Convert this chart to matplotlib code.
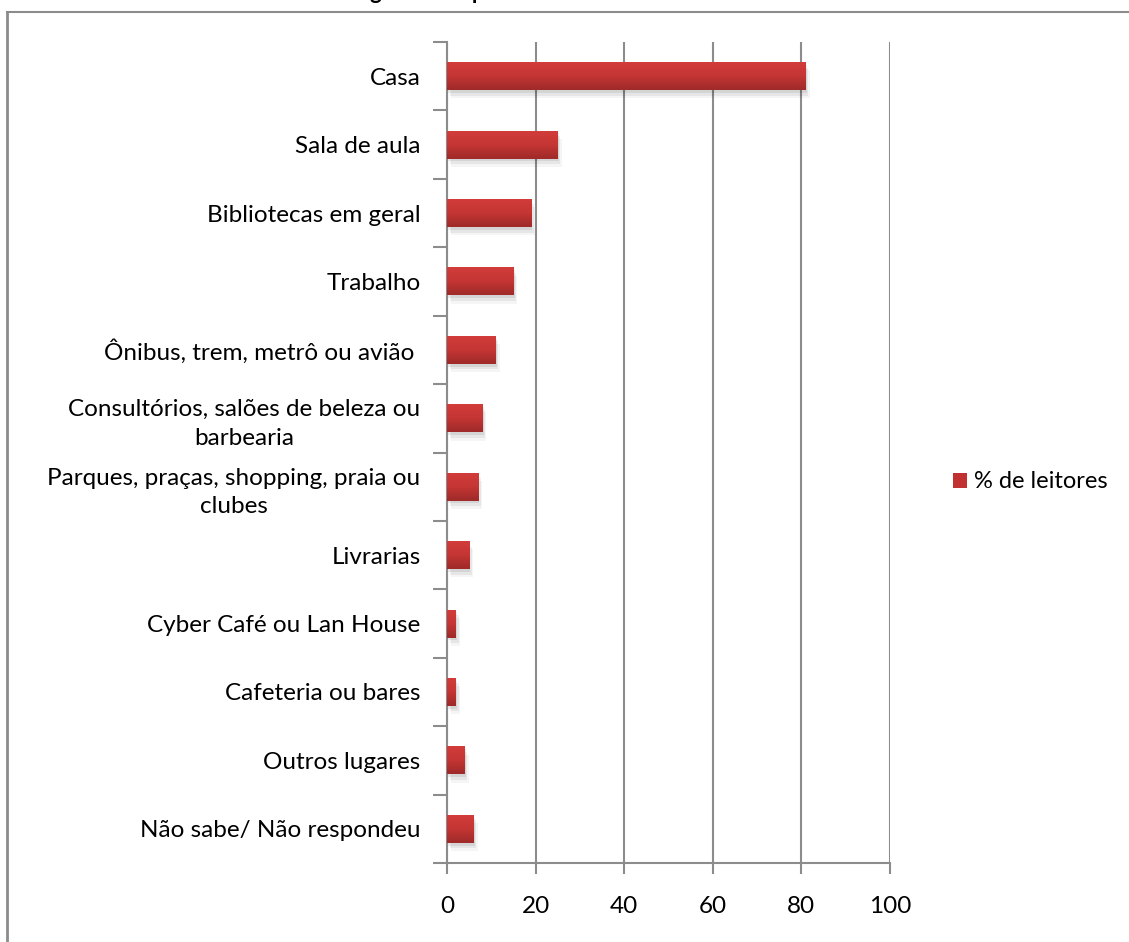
import numpy as np
import matplotlib.pyplot as plt
from matplotlib.lines import Line2D
from matplotlib.colors import LinearSegmentedColormap

plt.rcParams['font.family'] = ['Lato', 'DejaVu Sans']

lugares = [
    'Casa',
    'Sala de aula',
    'Bibliotecas em geral',
    'Trabalho',
    'Ônibus, trem, metrô ou avião ',
    'Consultórios, salões de beleza ou\nbarbearia',
    'Parques, praças, shopping, praia ou\nclubes',
    'Livrarias',
    'Cyber Café ou Lan House',
    'Cafeteria ou bares',
    'Outros lugares',
    'Não sabe/ Não respondeu',
]
leitores = [81, 25, 19, 15, 11, 8, 7, 5, 2, 2, 4, 6]
serie = '% de leitores'
titulo = 'Lugares em que costuma ler'

W, H = 1129, 942
fig = plt.figure(figsize=(W / 100, H / 100), dpi=100)
ax = fig.add_axes([447 / W, 1 - 863 / H, (890 - 447) / W, (863 - 42) / H])

grey = '#8c8c8c'
ypos = np.arange(len(lugares))[::-1]
h = 0.41

# soft shadow behind each bar
for k, a in [(0.3, 0.08), (0.6, 0.06), (0.9, 0.04)]:
    ax.barh(ypos - 0.04 * k / 0.3, leitores, height=h, left=k,
            color='#000000', alpha=a, zorder=2, linewidth=0)
bars = ax.barh(ypos, leitores, height=h, color='#c0312f', zorder=3,
               label=serie)

# vertical red gradient on the bars
cmap = LinearSegmentedColormap.from_list('red', ['#d33d3b', '#c53634', '#9e2a29'])
grad = np.linspace(0, 1, 64).reshape(-1, 1)
for b in bars:
    x0, y0 = b.get_x(), b.get_y()
    im = ax.imshow(grad, cmap=cmap, aspect='auto', zorder=4,
                   extent=(x0, x0 + b.get_width(), y0, y0 + b.get_height()),
                   origin='upper')
    im.set_clip_path(b)

ax.set_xlim(0, 100)
ax.set_ylim(-0.5, len(lugares) - 0.5)
ax.set_xticks(np.arange(0, 101, 20))
ax.set_yticks(ypos)
ax.set_yticklabels(lugares, fontsize=17.5, multialignment='center',
                   linespacing=1.45)
ax.set_yticks(np.arange(-0.5, len(lugares), 1), minor=True)

ax.tick_params(axis='y', which='major', length=0, pad=19)
ax.tick_params(axis='y', which='minor', length=10, width=1.5, color=grey)
ax.tick_params(axis='x', length=8, width=1.5, color=grey, labelsize=17.5, pad=16)

ax.grid(axis='x', color=grey, linewidth=1.5, zorder=1)
ax.set_axisbelow(True)
for s in ['top', 'right']:
    ax.spines[s].set_visible(False)
for s in ['left', 'bottom']:
    ax.spines[s].set_color(grey)
    ax.spines[s].set_linewidth(1.5)

leg = fig.legend(handles=[bars], labels=[serie], loc='center left',
                 bbox_to_anchor=(932 / W, 1 - 482 / H), frameon=False,
                 fontsize=17, handlelength=0.6, handleheight=0.6,
                 handletextpad=0.3)

# chart frame
fig.add_artist(Line2D([7 / W, 1], [1 - 12 / H, 1 - 12 / H], color=grey, lw=1.5))
fig.add_artist(Line2D([7 / W, 7 / W], [0, 1 - 12 / H], color=grey, lw=2))

fig.text(382 / W - 0.032, 1 + 1 / H, titulo, fontsize=16, fontweight='bold',
         ha='left', va='baseline')

fig.savefig('out.png', dpi=100)
